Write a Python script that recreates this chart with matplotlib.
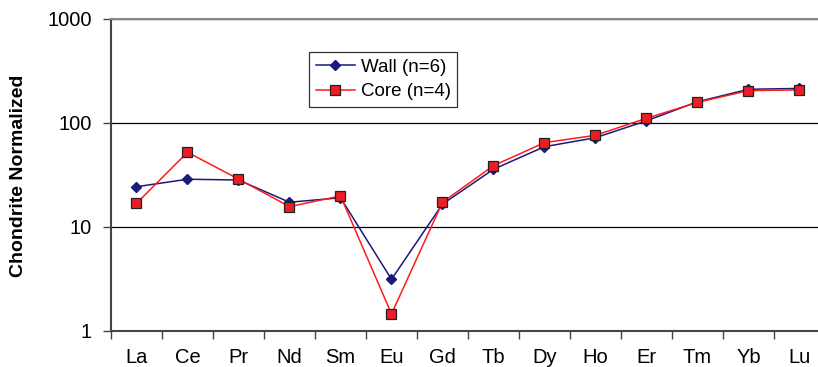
import numpy as np
import matplotlib.pyplot as plt

plt.rcParams['font.family'] = ['Liberation Sans', 'DejaVu Sans']

# REE pattern, chondrite normalized
elements = ['La', 'Ce', 'Pr', 'Nd', 'Sm', 'Eu', 'Gd', 'Tb', 'Dy', 'Ho', 'Er', 'Tm', 'Yb', 'Lu']
wall = [24.4, 28.8, 28.3, 17.3, 19.1, 3.14, 16.6, 35.9, 59.2, 72.2, 105, 160, 211, 215]
core = [16.9, 52.3, 28.9, 15.7, 19.9, 1.46, 17.3, 38.9, 64.7, 76.2, 111, 158, 205, 208]

W, H = 818, 367
fig = plt.figure(figsize=(W / 100, H / 100), dpi=100)
# plot area runs a bit past the right edge of the figure
ax = fig.add_axes([111 / W, (H - 331) / H, 714 / W, 312 / H])

x = np.arange(len(elements))
ax.plot(x, wall, color='#1a1a7a', lw=1.1, marker='D', ms=5.5,
        mfc='#1a1a7a', mec='#1a1a7a', label='Wall (n=6)', zorder=3)
ax.plot(x, core, color='#ff1a1a', lw=1.1, marker='s', ms=6.5,
        mfc='#ee1c24', mec='#222222', mew=0.9, label='Core (n=4)', zorder=4)

ax.set_yscale('log')
ax.set_ylim(1, 1000)
ax.set_xlim(-0.5, len(elements) - 0.5)
ax.set_yticks([1, 10, 100, 1000])
ax.set_yticklabels(['1', '10', '100', '1000'])
ax.minorticks_off()
ax.yaxis.grid(True, color='black', lw=0.9)

ax.set_xticks(x)
ax.set_xticklabels(elements)
ax.set_xticks(np.arange(len(elements) + 1) - 0.5, minor=True)
ax.tick_params(axis='x', which='major', length=0, pad=12, labelsize=14.5)
ax.tick_params(axis='x', which='minor', length=6, color='#444444', width=1)
ax.tick_params(axis='y', length=6, color='#444444', width=1, labelsize=14.5, pad=8)

ax.spines['right'].set_visible(False)
ax.spines['top'].set_color('#888888')
ax.spines['top'].set_linewidth(1.5)
for side in ['left', 'bottom']:
    ax.spines[side].set_color('#444444')
    ax.spines[side].set_linewidth(1.5)

ax.set_ylabel('Chondrite Normalized', fontsize=14, fontweight='bold')
ax.yaxis.set_label_coords((27 - 111) / 714, (331 - 176) / 312)

leg = ax.legend(loc='upper left', bbox_to_anchor=((309 - 111) / 714, (331 - 52) / 312),
                frameon=True, fancybox=False, edgecolor='black', fontsize=13.5,
                handlelength=2.1, borderpad=0.35, labelspacing=0.4, handletextpad=0.3,
                borderaxespad=0)
leg.get_frame().set_linewidth(0.9)

fig.savefig('out.png', dpi=100)
